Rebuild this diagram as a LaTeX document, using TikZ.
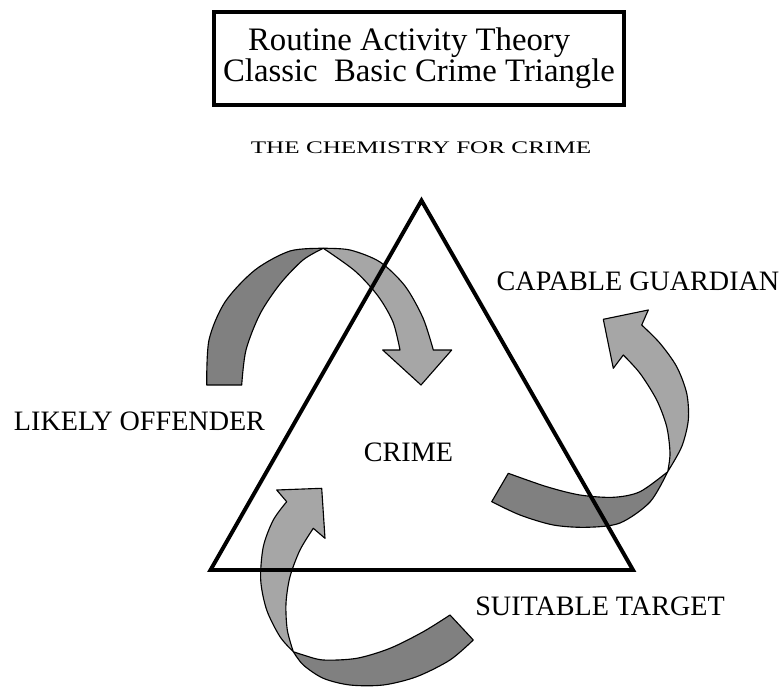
\documentclass[tikz,border=0pt]{standalone}
\usepackage{graphicx}
\usepackage{fontspec}
\setmainfont{Liberation Serif}
\usepackage{tikz}
\usetikzlibrary{arrows.meta}
\usetikzlibrary{calc,positioning}

\begin{document}
\begin{tikzpicture}[x=0.025cm, y=-0.025cm,
        back/.style={draw=black, line width=0.8pt, fill=black!50, line join=round},
        front/.style={draw=black, line width=0.8pt, fill=black!35, line join=round},
        side/.style={font=\fontsize{20}{24}\selectfont}]
        \useasboundingbox (0,0) rectangle (784,689);

        \node[draw, line width=2.4pt, minimum width=10.25cm, minimum height=2.325cm, align=center,
              font=\fontsize{23.3}{22}\selectfont] (title) at (419,58.5)
              {Routine Activity Theory\hspace*{0.6em}\\Classic\ \ Basic Crime Triangle};
        \node[font=\fontsize{12.6}{15}\selectfont] (chem) at (421,148)
              {\scalebox{1.42}[1]{THE CHEMISTRY FOR CRIME}};

        % offender -> crime
        \filldraw[back] plot[smooth] coordinates {(206.7,385) (209,340) (225,302) (255,270) (290,251) (323.3,248.3)}
            -- plot[smooth] coordinates {(323.3,248.3) (303,260) (280,284) (260,314) (246,350) (241.7,385)} -- cycle;
        \filldraw[front] plot[smooth] coordinates {(323.3,248.3) (350,250) (380,262) (405,286) (423,318) (433.3,350)}
            -- (451.7,350) -- (421,385) -- (382.7,350) -- (400,350)
            -- plot[smooth] coordinates {(400,350) (393,322) (378,296) (355,271) (323.3,248.3)} -- cycle;

        % guardian arrow
        \filldraw[back] plot[smooth] coordinates {(508.3,473.3) (546.7,486.7) (580,495) (613.3,497.3) (640,491.7) (667.7,471.7)}
            -- plot[smooth] coordinates {(667.7,471.7) (650,502) (620,523) (586.7,527.3) (553.3,525) (520,515) (491.7,501.7)} -- cycle;
        \filldraw[front] plot[smooth] coordinates {(667.7,471.7) (681.7,446.7) (688.3,420) (686.7,393.3) (676.7,366.7) (660,343.3) (641.7,325)}
            -- (648.3,310) -- (603.3,319.3) -- (613.3,368.3) -- (623.3,355)
            -- plot[smooth] coordinates {(623.3,355) (640,373.3) (656.7,400) (666.7,426.7) (670,453.3) (667.7,471.7)} -- cycle;

        % target arrow
        \filldraw[back] plot[smooth] coordinates {(450,615) (423.3,631.7) (390,648.3) (356.7,658.3) (323.3,660) (303.3,655) (293.3,651.7)}
            -- plot[smooth] coordinates {(293.3,651.7) (303.3,665) (323.3,678.3) (350,685) (383.3,685) (416.7,676.7) (450,660) (473.3,640)} -- cycle;
        \filldraw[front] plot[smooth] coordinates {(293.3,651.7) (280,636.7) (266.7,610) (260.7,580) (263.3,546.7) (273.3,520) (286.7,501.7)}
            -- (276.7,490) -- (321.7,488.3) -- (325,538.3) -- (313.3,528.3)
            -- plot[smooth] coordinates {(313.3,528.3) (300,550) (290,576.7) (286,603.3) (287.3,630) (293.3,651.7)} -- cycle;

        \coordinate (apex) at (421.5,200.5);
        \coordinate (left) at (210.5,570);
        \coordinate (right) at (633,570);
        \draw[line width=2.8pt, line join=miter] (apex) -- (left) -- (right) -- cycle;

        \node[side] (offender) at (139.5,421) {LIKELY OFFENDER};
        \node[side] (guardian) at (638,281) {CAPABLE GUARDIAN};
        \node[side] (target) at (600,606) {SUITABLE TARGET};
        \node[side] (crime) at (408.5,452) {CRIME};
\end{tikzpicture}
\end{document}
